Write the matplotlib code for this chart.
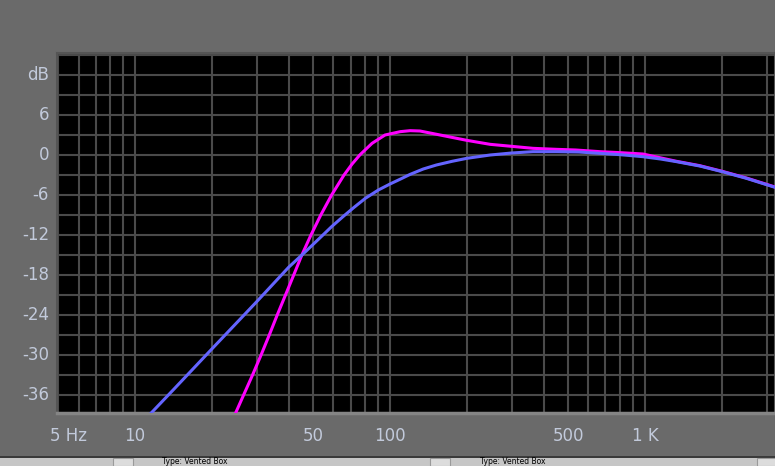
#!/usr/bin/env python3
"""Vented box response plot, WinISD style."""

import matplotlib
matplotlib.use("Agg")
import matplotlib.pyplot as plt
from matplotlib.patches import Rectangle

# blue curve (reference)
freq_blue = [11.0, 11.6, 14.1, 20, 30, 40, 47.2, 53.2, 59, 65.6, 72, 80, 90, 100,
             110, 120, 135, 152, 175, 200, 247, 300, 364, 450, 550, 665, 800, 981,
             1150, 1330, 1640, 2010, 2500, 3300]
db_blue = [-39.55, -38.65, -35.25, -29.1, -22.0, -16.85, -14.3, -12.4, -10.75, -9.2,
           -7.9, -6.5, -5.25, -4.35, -3.6, -2.9, -2.1, -1.5, -0.95, -0.5, 0.0, 0.3,
           0.5, 0.5, 0.45, 0.25, 0.05, -0.25, -0.6, -1.0, -1.65, -2.5, -3.5, -4.95]

# magenta curve (vented box)
freq_mag = [24.0, 24.79, 26.65, 28.89, 31.2, 33.6, 36.1, 38.9, 41.9, 45.1, 48.96,
            53.5, 59.0, 66.0, 71, 76.1, 85, 95.6, 109.6, 120, 131, 148, 172, 200,
            247, 300, 364, 450, 535, 665, 800, 981, 1330, 1640, 2010, 2500, 3300]
db_mag = [-39.8, -38.7, -36.0, -33.0, -30.0, -27.0, -24.0, -21.0, -18.0, -15.0,
          -12.0, -9.0, -6.0, -3.0, -1.35, 0.0, 1.75, 3.0, 3.5, 3.65, 3.6, 3.2, 2.7,
          2.2, 1.6, 1.3, 1.0, 0.85, 0.75, 0.5, 0.35, 0.15, -0.95, -1.6, -2.45,
          -3.45, -4.9]

xgrid = [5, 6, 7, 8, 9, 10, 20, 30, 40, 50, 60, 70, 80, 90, 100, 200, 300, 400,
         500, 600, 700, 800, 900, 1000, 2000, 3000]
ygrid = list(range(15, -39, -3))
xtick_pos = [10, 50, 100, 500, 1000]
xtick_lab = ["10", "50", "100", "500", "1 K"]
ytick_pos = [12, 6, 0, -6, -12, -18, -24, -30, -36]
ytick_lab = ["dB", "6", "0", "-6", "-12", "-18", "-24", "-30", "-36"]

W, H = 775, 466
BG = "#6a6a6a"
GRID = "#4a4a4a"
TXT = "#c2cadb"

fig = plt.figure(figsize=(W / 100, H / 100), dpi=100, facecolor=BG)
ax = fig.add_axes([57 / W, (H - 413) / H, (W - 57) / W, 360 / H])
ax.set_facecolor("black")
ax.set_xscale("log")
ax.set_xlim(4.94, 3236)
ax.set_ylim(-38.7, 15.3)

for x in xgrid:
    ax.axvline(x, color=GRID, lw=1.5, zorder=1)
for y in ygrid:
    ax.axhline(y, color=GRID, lw=1.5, zorder=1)

ax.plot(freq_mag, db_mag, color="#ff00ff", lw=2.2, zorder=3, solid_joinstyle="round")
ax.plot(freq_blue, db_blue, color="#6464ff", lw=2.2, zorder=4, solid_joinstyle="round")

ax.set_xticks([])
ax.set_yticks([])
ax.minorticks_off()
for side in ["left", "top", "right"]:
    ax.spines[side].set_color("#555555")
    ax.spines[side].set_linewidth(1.5)
ax.spines["bottom"].set_color("#858585")
ax.spines["bottom"].set_linewidth(2.5)

font = dict(fontsize=12, color=TXT, family="DejaVu Sans")
for pos, lab in zip(ytick_pos, ytick_lab):
    ax.annotate(lab, xy=(0, pos), xycoords=("axes fraction", "data"),
                xytext=(-8, 0), textcoords="offset pixels",
                ha="right", va="center", **font)
for pos, lab in zip(xtick_pos, xtick_lab):
    ax.annotate(lab, xy=(pos, 0), xycoords=("data", "axes fraction"),
                xytext=(0, -23), textcoords="offset pixels",
                ha="center", va="center", **font)
ax.annotate("5 Hz", xy=(5, 0), xycoords=("data", "axes fraction"),
            xytext=(-8, -23), textcoords="offset pixels",
            ha="left", va="center", **font)

# status strip at the bottom edge
fig.patches.append(Rectangle((0, 0), 1, 10 / H, transform=fig.transFigure,
                             facecolor="#3a3a3a", edgecolor="none", zorder=5))
fig.patches.append(Rectangle((0, 0), 1, 8 / H, transform=fig.transFigure,
                             facecolor="#c6c6c6", edgecolor="none", zorder=6))
for xp in [162, 480]:
    fig.text(xp / W, 4 / H, "Type: Vented Box", fontsize=5.5, color="black",
             ha="left", va="center", zorder=7)
for xp in [113, 430, 757]:
    fig.patches.append(Rectangle((xp / W, 0), 20 / W, 8 / H, transform=fig.transFigure,
                                 facecolor="#dcdcdc", edgecolor="#9a9a9a",
                                 lw=0.8, zorder=7))

fig.savefig("out.png", dpi=100, facecolor=BG)
